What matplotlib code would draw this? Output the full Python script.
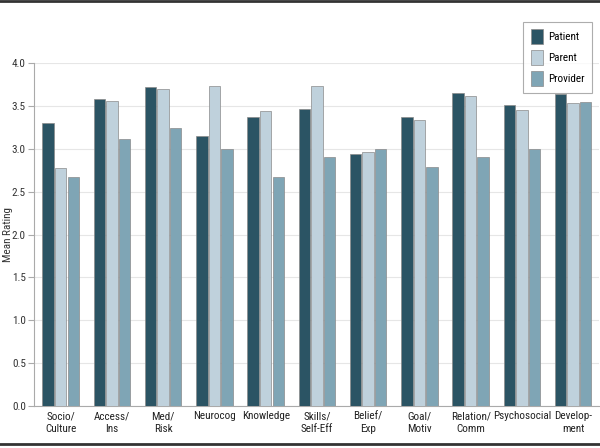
import numpy as np
import matplotlib
matplotlib.use("Agg")
import matplotlib.pyplot as plt
from matplotlib.lines import Line2D

plt.rcParams['font.family'] = ['Liberation Sans Narrow', 'DejaVu Sans Condensed',
                               'Roboto Condensed', 'Roboto', 'DejaVu Sans']

categories = ["Socio/\nCulture", "Access/\nIns", "Med/\nRisk", "Neurocog", "Knowledge",
              "Skills/\nSelf-Eff", "Belief/\nExp", "Goal/\nMotiv", "Relation/\nComm",
              "Psychosocial", "Develop-\nment"]
patient = [3.30, 3.58, 3.72, 3.15, 3.37, 3.47, 2.94, 3.37, 3.65, 3.51, 3.64]
parent = [2.78, 3.56, 3.70, 3.73, 3.44, 3.73, 2.96, 3.34, 3.62, 3.45, 3.54]
provider = [2.67, 3.11, 3.24, 3.00, 2.67, 2.90, 3.00, 2.79, 2.90, 3.00, 3.55]

series = [("Patient", patient, "#2b5464"),
          ("Parent", parent, "#bfd1dc"),
          ("Provider", provider, "#7fa5b5")]

fig = plt.figure(figsize=(6, 4.48), dpi=100)
ax = fig.add_axes([0.057, 0.094, 0.941, 0.765])

x = np.arange(len(categories))
w = 0.224
step = 0.245
for i, (name, vals, col) in enumerate(series):
    ax.bar(x + (i - 1) * step, vals, width=w, color=col, edgecolor="#8a8a8a",
           linewidth=0.5, label=name, zorder=3)

fs = 8
ax.set_ylim(0, 4.0)
ax.set_xlim(-0.517, 10.5)
ax.set_yticks(np.arange(0, 4.01, 0.5))
ax.set_yticklabels([f"{v:.1f}" for v in np.arange(0, 4.01, 0.5)], fontsize=fs, color="#333333")
ax.set_xticks(x)
ax.set_xticklabels(categories, fontsize=fs, color="#222222", linespacing=1.3)
ax.tick_params(axis="x", length=0, pad=4)
ax.tick_params(axis="y", length=4, color="#aaaaaa", width=0.8, pad=2)
ax.set_ylabel("Mean Rating", fontsize=fs, color="#333333")
ax.yaxis.set_label_coords(-0.037, 0.5)
ax.yaxis.grid(True, color="#e6e6e6", linewidth=0.8, zorder=0)
for s in ["top", "right"]:
    ax.spines[s].set_visible(False)
for s in ["left", "bottom"]:
    ax.spines[s].set_color("#aaaaaa")
    ax.spines[s].set_linewidth(0.8)

leg = fig.legend(loc="upper right", bbox_to_anchor=(0.996, 0.964), fontsize=fs,
                 frameon=True, fancybox=False, edgecolor="#999999",
                 handlelength=1.15, handleheight=1.75, handletextpad=0.45,
                 labelspacing=0.5, borderpad=0.65)
leg.get_frame().set_linewidth(0.8)

fig.add_artist(Line2D([0, 1], [0.997, 0.997], color="#333333", linewidth=2))
fig.add_artist(Line2D([0, 1], [0.008, 0.008], color="#333333", linewidth=2))

fig.savefig("out.png", dpi=100)
